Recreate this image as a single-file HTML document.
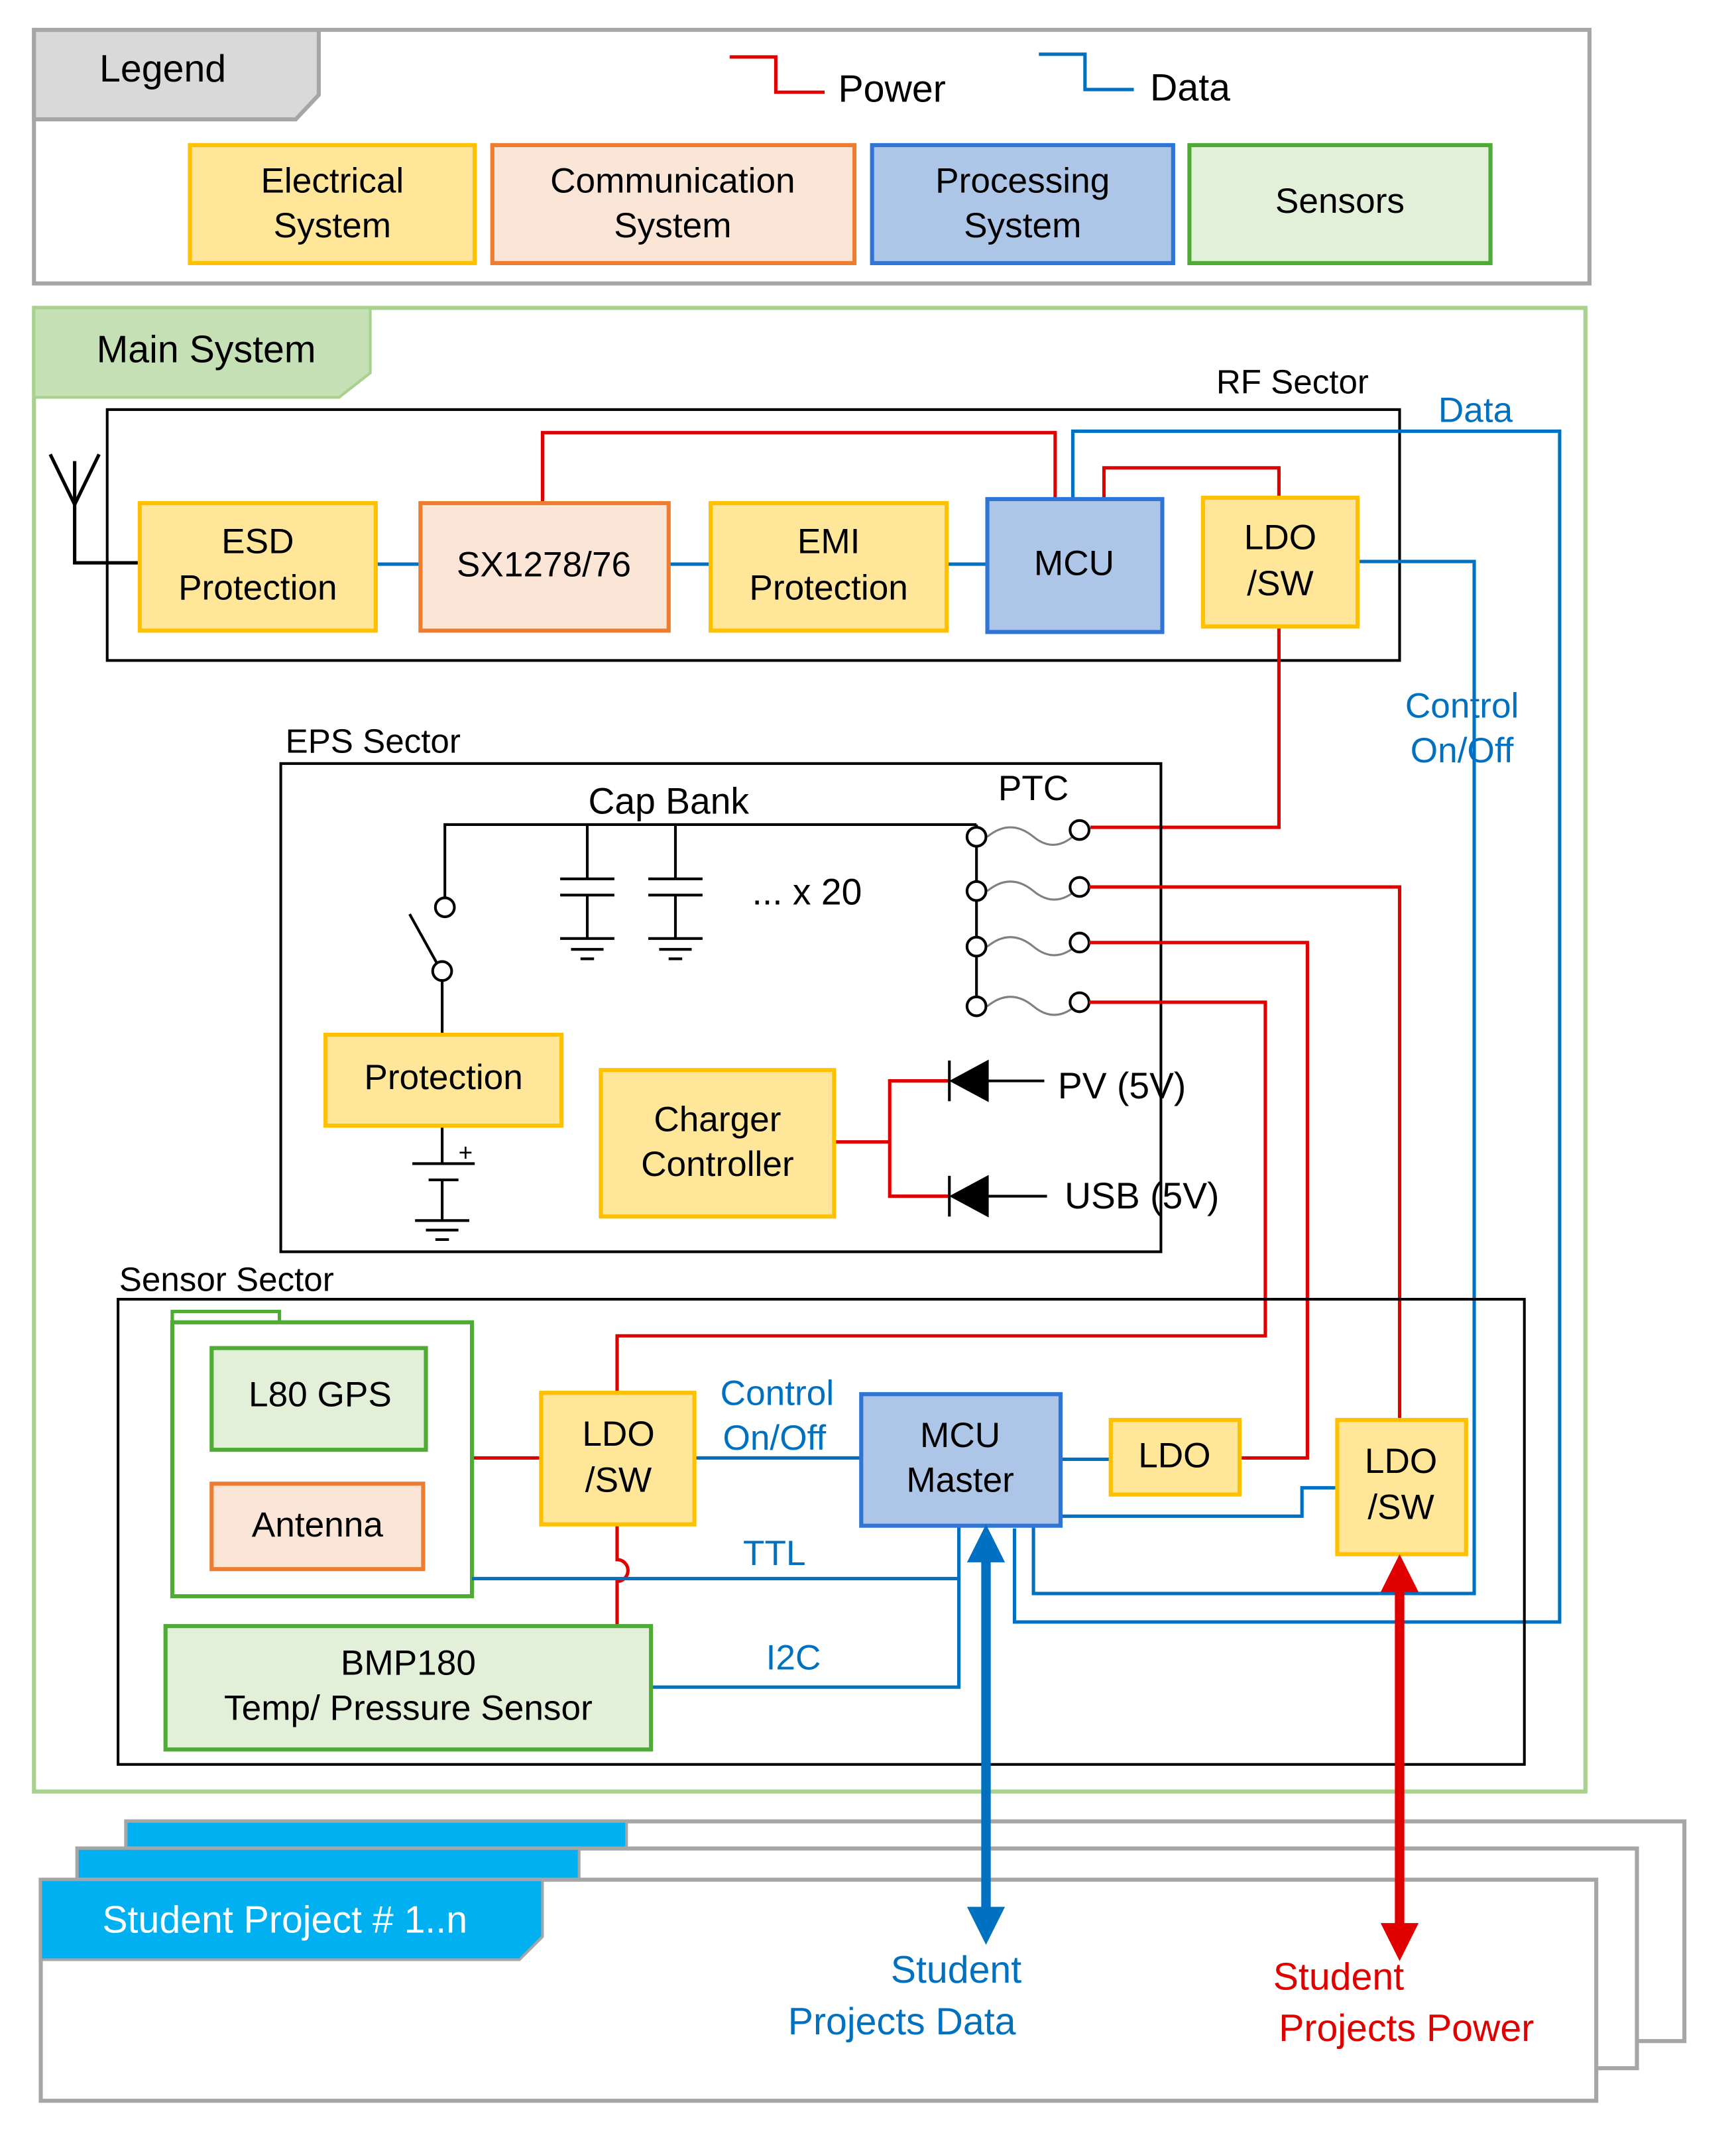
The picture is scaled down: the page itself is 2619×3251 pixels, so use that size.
<!DOCTYPE html>
<html><head><meta charset="utf-8"><style>html,body{margin:0;padding:0;background:#fff}svg{display:block}</style></head><body>
<svg xmlns="http://www.w3.org/2000/svg" width="2619" height="3251" viewBox="0 0 1280 1589" font-family="Liberation Sans, sans-serif">
<defs>
<marker id="ab" viewBox="0 0 10 10" refX="5" refY="5" markerWidth="4" markerHeight="4" orient="auto-start-reverse"><path d="M0,0 L10,5 L0,10 z" fill="#0070c0"/></marker>
<marker id="ar" viewBox="0 0 10 10" refX="5" refY="5" markerWidth="4" markerHeight="4" orient="auto-start-reverse"><path d="M0,0 L10,5 L0,10 z" fill="#e00000"/></marker>
</defs>
<rect width="1280" height="1589" fill="#fff"/>
<!-- Legend -->
<rect x="25" y="22" width="1147" height="187" fill="#fff" stroke="#a6a6a6" stroke-width="3"/>
<polygon points="25,22 235,22 235,70 218,88 25,88" fill="#d9d9d9" stroke="#a6a6a6" stroke-width="3"/>
<text x="120" y="60" font-size="28" text-anchor="middle">Legend</text>
<polyline points="538,42 572,42 572,68 608,68" fill="none" stroke="#e00000" stroke-width="2.5"/>
<text x="618" y="75" font-size="28">Power</text>
<polyline points="766,40 800,40 800,66 836,66" fill="none" stroke="#0070c0" stroke-width="2.5"/>
<text x="848" y="74" font-size="28">Data</text>
<g font-size="26" text-anchor="middle">
<rect x="140" y="107" width="210" height="87" fill="#ffe699" stroke="#ffc000" stroke-width="3"/>
<text x="245" y="142">Electrical</text><text x="245" y="175">System</text>
<rect x="363" y="107" width="267" height="87" fill="#fbe5d6" stroke="#ed7d31" stroke-width="3"/>
<text x="496" y="142">Communication</text><text x="496" y="175">System</text>
<rect x="643" y="107" width="222" height="87" fill="#adc6e8" stroke="#2e75d6" stroke-width="3"/>
<text x="754" y="142">Processing</text><text x="754" y="175">System</text>
<rect x="877" y="107" width="222" height="87" fill="#e2f0d9" stroke="#4eab34" stroke-width="3"/>
<text x="988" y="157">Sensors</text>
</g>
<!-- Main system -->
<rect x="25" y="227" width="1144" height="1094" fill="none" stroke="#a9d18e" stroke-width="3"/>
<polygon points="25,227 273,227 273,275 250,293 25,293" fill="#c5e0b4" stroke="#a9d18e" stroke-width="2"/>
<text x="152" y="267" font-size="28" text-anchor="middle">Main System</text>
<!-- RF sector -->
<rect x="79" y="302" width="953" height="185" fill="none" stroke="#000" stroke-width="2"/>
<text x="953" y="290" font-size="25" text-anchor="middle">RF Sector</text>
<polyline points="37,335 55,372 73,335" fill="none" stroke="#000" stroke-width="2.5"/>
<polyline points="55,340 55,415 103,415" fill="none" stroke="#000" stroke-width="2.5"/>
<!-- red lines RF -->
<polyline points="400,371 400,319 778,319 778,368" fill="none" stroke="#e00000" stroke-width="2.5"/>
<polyline points="814,368 814,345 943,345 943,367" fill="none" stroke="#e00000" stroke-width="2.5"/>
<polyline points="943,462 943,610 804,610" fill="none" stroke="#e00000" stroke-width="2.5"/>
<!-- blue RF -->
<g fill="none" stroke="#0070c0" stroke-width="2.5">
<line x1="277" y1="416" x2="310" y2="416"/><line x1="493" y1="416" x2="524" y2="416"/><line x1="698" y1="416" x2="728" y2="416"/>
<polyline points="791,368 791,318 1150,318 1150,1196 748,1196 748,1127"/>
<polyline points="1001,414 1087,414 1087,1175 762,1175 762,1124"/>
</g>
<text x="1088" y="311" font-size="26" fill="#0070c0" text-anchor="middle">Data</text>
<text x="1078" y="529" font-size="26" fill="#0070c0" text-anchor="middle">Control</text>
<text x="1078" y="562" font-size="26" fill="#0070c0" text-anchor="middle">On/Off</text>
<g font-size="26" text-anchor="middle">
<rect x="103" y="371" width="174" height="94" fill="#ffe699" stroke="#ffc000" stroke-width="3"/>
<text x="190" y="408">ESD</text><text x="190" y="442">Protection</text>
<rect x="310" y="371" width="183" height="94" fill="#fbe5d6" stroke="#ed7d31" stroke-width="3"/>
<text x="401" y="425">SX1278/76</text>
<rect x="524" y="371" width="174" height="94" fill="#ffe699" stroke="#ffc000" stroke-width="3"/>
<text x="611" y="408">EMI</text><text x="611" y="442">Protection</text>
<rect x="728" y="368" width="129" height="98" fill="#adc6e8" stroke="#2e75d6" stroke-width="3"/>
<text x="792" y="424">MCU</text>
<rect x="887" y="367" width="114" height="95" fill="#ffe699" stroke="#ffc000" stroke-width="3"/>
<text x="944" y="405">LDO</text><text x="944" y="439">/SW</text>
</g>
<!-- EPS -->
<rect x="207" y="563" width="649" height="360" fill="none" stroke="#000" stroke-width="2"/>
<text x="275" y="555" font-size="25" text-anchor="middle">EPS Sector</text>
<g stroke="#000" stroke-width="2" fill="none">
<polyline points="328,662 328,608 720,608"/>
<circle cx="328" cy="669" r="7" fill="#fff"/>
<circle cx="326" cy="716" r="7" fill="#fff"/>
<line x1="322" y1="710" x2="302" y2="674"/>
<line x1="326" y1="723" x2="326" y2="763"/>
<line x1="433" y1="608" x2="433" y2="648"/><line x1="413" y1="648" x2="453" y2="648"/><line x1="413" y1="660" x2="453" y2="660"/><line x1="433" y1="660" x2="433" y2="692"/>
<line x1="413" y1="692" x2="453" y2="692"/><line x1="421" y1="700" x2="445" y2="700"/><line x1="428" y1="707" x2="438" y2="707"/>
<line x1="498" y1="608" x2="498" y2="648"/><line x1="478" y1="648" x2="518" y2="648"/><line x1="478" y1="660" x2="518" y2="660"/><line x1="498" y1="660" x2="498" y2="692"/>
<line x1="478" y1="692" x2="518" y2="692"/><line x1="486" y1="700" x2="510" y2="700"/><line x1="493" y1="707" x2="503" y2="707"/>
<line x1="720" y1="608" x2="720" y2="742"/>
<line x1="326" y1="830" x2="326" y2="858"/><line x1="304" y1="858" x2="350" y2="858"/><line x1="316" y1="870" x2="338" y2="870"/><line x1="326" y1="870" x2="326" y2="900"/>
<line x1="306" y1="900" x2="346" y2="900"/><line x1="314" y1="907" x2="338" y2="907"/><line x1="321" y1="914" x2="331" y2="914"/>
</g>
<text x="338" y="856" font-size="18">+</text>
<text x="493" y="600" font-size="27" text-anchor="middle">Cap Bank</text>
<text x="595" y="667" font-size="27" text-anchor="middle">... x 20</text>
<text x="762" y="590" font-size="26" text-anchor="middle">PTC</text>
<g stroke="#808080" stroke-width="1.5" fill="none">
<path d="M728,617 q17,-14 34,0 q17,14 34,-5"/>
<path d="M728,657 q17,-14 34,0 q17,14 34,-3"/>
<path d="M728,698 q17,-14 34,0 q17,14 34,-3"/>
<path d="M728,742 q17,-14 34,0 q17,14 34,-3"/>
</g>
<g stroke="#000" stroke-width="2" fill="#fff">
<circle cx="720" cy="617" r="7"/><circle cx="720" cy="657" r="7"/><circle cx="720" cy="698" r="7"/><circle cx="720" cy="742" r="7"/>
<circle cx="796" cy="612" r="7"/><circle cx="796" cy="654" r="7"/><circle cx="796" cy="695" r="7"/><circle cx="796" cy="739" r="7"/>
</g>
<g fill="none" stroke="#e00000" stroke-width="2.5">
<polyline points="803,654 1032,654 1032,1047"/>
<polyline points="803,695 964,695 964,1075 914,1075"/>
<polyline points="803,739 933,739 933,985 455,985 455,1027"/>
<polyline points="615,842 656,842"/>
<polyline points="700,797 656,797 656,882 700,882"/>
<line x1="348" y1="1075" x2="399" y2="1075"/>
<path d="M455,1124 V1150 a8,8 0 0 1 0,16 V1199"/>
</g>
<g stroke="#000" stroke-width="2">
<polygon points="728,783 728,811 702,797" fill="#000"/><line x1="700" y1="782" x2="700" y2="812"/><line x1="728" y1="797" x2="770" y2="797"/>
<polygon points="728,868 728,896 702,882" fill="#000"/><line x1="700" y1="867" x2="700" y2="897"/><line x1="728" y1="882" x2="772" y2="882"/>
</g>
<text x="780" y="810" font-size="27">PV (5V)</text>
<text x="785" y="891" font-size="27">USB (5V)</text>
<g font-size="26" text-anchor="middle">
<rect x="240" y="763" width="174" height="67" fill="#ffe699" stroke="#ffc000" stroke-width="3"/>
<text x="327" y="803">Protection</text>
<rect x="443" y="789" width="172" height="108" fill="#ffe699" stroke="#ffc000" stroke-width="3"/>
<text x="529" y="834">Charger</text><text x="529" y="867">Controller</text>
</g>
<!-- Sensor sector -->
<rect x="87" y="958" width="1037" height="343" fill="none" stroke="#000" stroke-width="2"/>
<text x="167" y="952" font-size="25" text-anchor="middle">Sensor Sector</text>
<rect x="127" y="967" width="79" height="8" fill="none" stroke="#4eab34" stroke-width="2.5"/>
<rect x="127" y="975" width="221" height="202" fill="none" stroke="#4eab34" stroke-width="3"/>
<g fill="none" stroke="#0070c0" stroke-width="2.5">
<line x1="512" y1="1075" x2="635" y2="1075"/>
<line x1="782" y1="1076" x2="819" y2="1076"/>
<polyline points="780,1118 960,1118 960,1097 986,1097"/>
<polyline points="348,1164 707,1164 707,1125"/>
<polyline points="480,1244 707,1244 707,1164"/>
</g>
<text x="573" y="1036" font-size="26" fill="#0070c0" text-anchor="middle">Control</text>
<text x="571" y="1069" font-size="26" fill="#0070c0" text-anchor="middle">On/Off</text>
<text x="571" y="1154" font-size="26" fill="#0070c0" text-anchor="middle">TTL</text>
<text x="585" y="1231" font-size="26" fill="#0070c0" text-anchor="middle">I2C</text>
<g font-size="26" text-anchor="middle">
<rect x="156" y="994" width="158" height="75" fill="#e2f0d9" stroke="#4eab34" stroke-width="3"/>
<text x="236" y="1037">L80 GPS</text>
<rect x="156" y="1094" width="156" height="63" fill="#fbe5d6" stroke="#ed7d31" stroke-width="3"/>
<text x="234" y="1133">Antenna</text>
<rect x="122" y="1199" width="358" height="91" fill="#e2f0d9" stroke="#4eab34" stroke-width="3"/>
<text x="301" y="1235">BMP180</text><text x="301" y="1268">Temp/ Pressure Sensor</text>
<rect x="399" y="1027" width="113" height="97" fill="#ffe699" stroke="#ffc000" stroke-width="3"/>
<text x="456" y="1066">LDO</text><text x="456" y="1100">/SW</text>
<rect x="635" y="1028" width="147" height="97" fill="#adc6e8" stroke="#2e75d6" stroke-width="3"/>
<text x="708" y="1067">MCU</text><text x="708" y="1100">Master</text>
<rect x="819" y="1047" width="95" height="55" fill="#ffe699" stroke="#ffc000" stroke-width="3"/>
<text x="866" y="1082">LDO</text>
<rect x="986" y="1047" width="95" height="99" fill="#ffe699" stroke="#ffc000" stroke-width="3"/>
<text x="1033" y="1086">LDO</text><text x="1033" y="1120">/SW</text>
</g>
<!-- Student projects -->
<rect x="93" y="1343" width="1149" height="162" fill="#fff" stroke="#a6a6a6" stroke-width="3"/>
<rect x="93" y="1343" width="369" height="20" fill="#00b0f0" stroke="#a6a6a6" stroke-width="2"/>
<rect x="57" y="1363" width="1150" height="162" fill="#fff" stroke="#a6a6a6" stroke-width="3"/>
<rect x="57" y="1363" width="370" height="23" fill="#00b0f0" stroke="#a6a6a6" stroke-width="2"/>
<rect x="30" y="1386" width="1147" height="163" fill="#fff" stroke="#a6a6a6" stroke-width="3"/>
<polygon points="30,1386 400,1386 400,1428 383,1445 30,1445" fill="#00b0f0" stroke="#a6a6a6" stroke-width="2"/>
<text x="210" y="1425" font-size="28" fill="#fff" text-anchor="middle">Student Project # 1..n</text>
<line x1="727" y1="1138" x2="727" y2="1420" stroke="#0070c0" stroke-width="7" marker-start="url(#ab)" marker-end="url(#ab)"/>
<line x1="1032" y1="1160" x2="1032" y2="1432" stroke="#e00000" stroke-width="7" marker-start="url(#ar)" marker-end="url(#ar)"/>
<text x="705" y="1462" font-size="28" fill="#0070c0" text-anchor="middle">Student</text>
<text x="665" y="1500" font-size="28" fill="#0070c0" text-anchor="middle">Projects Data</text>
<text x="987" y="1467" font-size="28" fill="#e00000" text-anchor="middle">Student</text>
<text x="1037" y="1505" font-size="28" fill="#e00000" text-anchor="middle">Projects Power</text>
</svg>
</body></html>
